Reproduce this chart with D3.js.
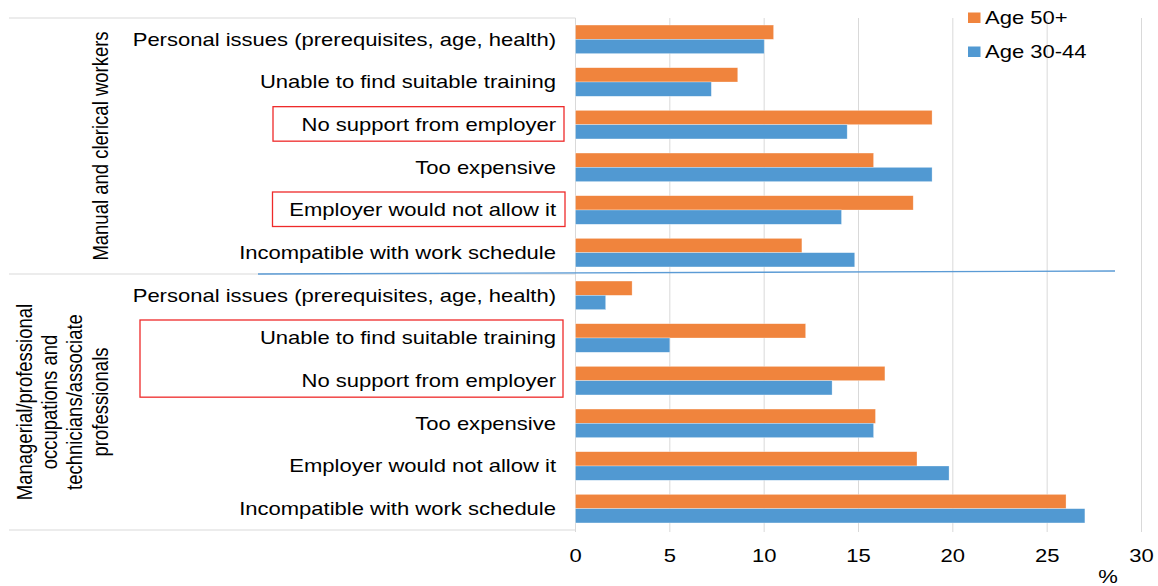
<!DOCTYPE html>
<html>
<head>
<meta charset="utf-8">
<script src="https://cdn.jsdelivr.net/npm/d3@7"></script>
<style>
  body { margin: 0; background: #fff; }
  text { font-family: "Liberation Sans", Arial, sans-serif; fill: #000; }
</style>
</head>
<body>
<div id="chart"></div>
<script>
// data
var categories = [
  "Personal issues (prerequisites, age, health)",
  "Unable to find suitable training",
  "No support from employer",
  "Too expensive",
  "Employer would not allow it",
  "Incompatible with work schedule"
];
var groups = [
  ["Manual and clerical workers"],
  ["Managerial/professional", "occupations and", "technicians/associate", "professionals"]
];
var seriesNames = ["Age 50+", "Age 30-44"];
var manualAge50 = [10.5, 8.6, 18.9, 15.8, 17.9, 12.0];
var manualAge3044 = [10.0, 7.2, 14.4, 18.9, 14.1, 14.8];
var managerialAge50 = [3.0, 12.2, 16.4, 15.9, 18.1, 26.0];
var managerialAge3044 = [1.6, 5.0, 13.6, 15.8, 19.8, 27.0];
var xTicks = [0, 5, 10, 15, 20, 25, 30];
// highlighted labels: [group, first category, last category]
var highlights = [[0, 2, 2], [0, 4, 4], [1, 1, 2]];

var W = 1158, H = 586;
var plotLeft = 575.5, plotRight = 1141.5, plotTop = 18, plotBottom = 530;
var stretch = 1.19;
var colors = ["#f0843d", "#5199d2"];

var svg = d3.select("#chart").append("svg")
  .attr("width", W)
  .attr("height", H);

var rows = [];
[[manualAge50, manualAge3044], [managerialAge50, managerialAge3044]].forEach(function(vals, g) {
  categories.forEach(function(c, i) {
    rows.push({key: g + "|" + i, group: g, cat: c, values: [vals[0][i], vals[1][i]]});
  });
});

var x = d3.scaleLinear().domain([0, 30]).range([plotLeft, plotRight]);
var y = d3.scaleBand().domain(rows.map(function(d) { return d.key; }))
  .range([plotTop, plotBottom]).paddingInner(0.33).paddingOuter(0.165);
var ySub = d3.scaleBand().domain([0, 1]).range([0, y.bandwidth()]);
var center = function(key) { return y(key) + y.bandwidth() / 2; };

// stretched horizontal text, like the picture
function hText(sel, tx, ty, str, anchor, size) {
  return sel.append("text")
    .attr("transform", "translate(" + tx + "," + ty + ") scale(" + stretch + ",1)")
    .attr("text-anchor", anchor)
    .attr("dy", "0.35em")
    .style("font-size", size + "px")
    .text(str);
}

// gridlines
svg.append("g").selectAll("line").data(xTicks).enter().append("line")
  .attr("x1", function(d) { return x(d); })
  .attr("x2", function(d) { return x(d); })
  .attr("y1", plotTop).attr("y2", plotBottom + 2)
  .attr("stroke", "#d9d9d9").attr("stroke-width", 1);

// table lines on the left
var step = y.step();
[plotTop, plotTop + 6 * step, plotBottom].forEach(function(ly) {
  svg.append("line")
    .attr("x1", 9).attr("x2", plotLeft).attr("y1", ly).attr("y2", ly)
    .attr("stroke", "#d9d9d9").attr("stroke-width", 1.2);
});

// bars
var bars = svg.append("g").selectAll("g").data(rows).enter().append("g")
  .attr("transform", function(d) { return "translate(0," + y(d.key) + ")"; });
bars.selectAll("rect").data(function(d) { return d.values; }).enter().append("rect")
  .attr("x", x(0))
  .attr("y", function(d, i) { return ySub(i); })
  .attr("width", function(d) { return x(d) - x(0); })
  .attr("height", ySub.bandwidth())
  .attr("fill", function(d, i) { return colors[i]; })
  .attr("stroke", "#fff").attr("stroke-opacity", 0.5).attr("stroke-width", 0.6);

// category labels
rows.forEach(function(d) {
  hText(svg, 556, center(d.key), d.cat, "end", 18.5);
});

// x tick labels
xTicks.forEach(function(t) {
  hText(svg, x(t), 556, String(t), "middle", 18.5);
});
hText(svg, 1108, 577, "%", "middle", 18.5);

// group labels (rotated, glyphs a bit wider like the picture)
groups.forEach(function(lines, g) {
  var cy = plotTop + (g * 6 + 3) * step;
  var n = lines.length;
  lines.forEach(function(l, i) {
    var cx = 100 - (n - 1 - i) * 25.3;
    svg.append("text")
      .attr("transform", "translate(" + cx + "," + cy + ") scale(" + stretch + ",1) rotate(-90)")
      .attr("text-anchor", "middle")
      .attr("dy", "0.35em")
      .style("font-size", "18.5px")
      .text(l);
  });
});

// red highlight boxes
var boxX = [[273, 564], [272.5, 565], [140, 563]];
highlights.forEach(function(h, i) {
  var yA = center(h[0] + "|" + h[1]) - 18;
  var yB = center(h[0] + "|" + h[2]) + 16.5;
  svg.append("rect")
    .attr("x", boxX[i][0]).attr("y", yA)
    .attr("width", boxX[i][1] - boxX[i][0]).attr("height", yB - yA)
    .attr("fill", "none").attr("stroke", "#ee2a2a").attr("stroke-width", 1.3);
});

// hand drawn divider line
svg.append("line")
  .attr("x1", 258).attr("y1", 274).attr("x2", 1115).attr("y2", 271)
  .attr("stroke", "#5b9bd5").attr("stroke-width", 1.3);

// legend
var legend = svg.append("g").selectAll("g").data(seriesNames).enter().append("g");
legend.append("rect")
  .attr("x", 968)
  .attr("y", function(d, i) { return 12.5 + i * 34; })
  .attr("width", 12.5).attr("height", 10.5)
  .attr("fill", function(d, i) { return colors[i]; });
legend.each(function(d, i) {
  hText(d3.select(this), 985, 18 + i * 34, d, "start", 18.5);
});
</script>
</body>
</html>
